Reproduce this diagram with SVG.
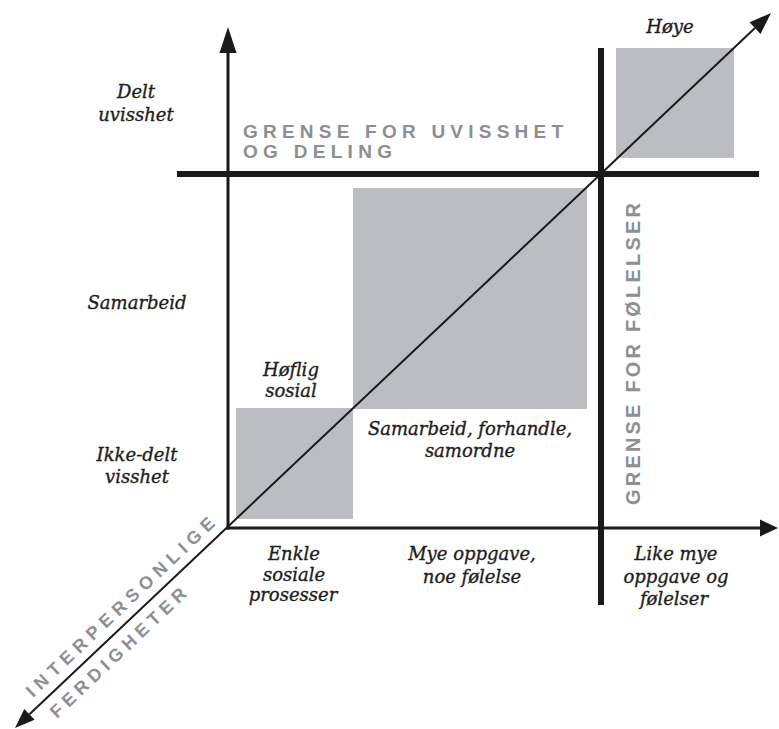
<svg xmlns="http://www.w3.org/2000/svg" width="779" height="729" viewBox="0 0 779 729">
<style>
.box{fill:#bcbdc0}
.lbl{font-family:"DejaVu Serif","Liberation Serif",serif;font-style:italic;font-size:18px;fill:#1e1e1e;stroke:#1e1e1e;stroke-width:0.35;text-anchor:middle}
.cap{font-family:"Liberation Sans",Arial,sans-serif;font-weight:bold;font-size:19px;fill:#8d8f92}
.axis{stroke:#1a1a1a;stroke-width:3;fill:none}
.diag{stroke:#1a1a1a;stroke-width:2;fill:none}
.thick{stroke:#1a1a1a;stroke-width:6;fill:none}
.head{fill:#1a1a1a}
</style>
<rect width="779" height="729" fill="#ffffff"/>
<g id="boxes">
<rect id="box-small" class="box" x="236" y="408" width="117" height="111"/>
<rect id="box-mid" class="box" x="353" y="188" width="234" height="221"/>
<rect id="box-top" class="box" x="616" y="48" width="118" height="110"/>
</g>
<g id="connectors">
<line class="thick" x1="177" y1="174" x2="759" y2="174"/>
<line class="thick" x1="601" y1="48" x2="601" y2="605"/>
<line class="axis" x1="228" y1="529.5" x2="228" y2="50"/>
<polygon class="head" points="228,27 219.5,53 236.5,53"/>
<line class="axis" x1="226.5" y1="528" x2="762" y2="528"/>
<polygon class="head" points="778,528 760,519.5 760,536.5"/>
<line class="diag" x1="29.5" y1="714.3" x2="755" y2="28.1"/>
<polygon class="head" points="771,13 760.5,33.9 749.5,22.3"/>
<polygon class="head" points="15,728 34.7,719.7 24.3,708.9"/>
</g>
<g id="y-labels">
<text class="lbl" x="136" y="98">Delt</text>
<text class="lbl" x="136" y="121">uvisshet</text>
<text class="lbl" x="137" y="309">Samarbeid</text>
<text class="lbl" x="137" y="461">Ikke-delt</text>
<text class="lbl" x="137" y="483">visshet</text>
</g>
<g id="box-labels">
<text class="lbl" x="291" y="376">Høflig</text>
<text class="lbl" x="291" y="397">sosial</text>
<text class="lbl" x="470" y="435">Samarbeid, forhandle,</text>
<text class="lbl" x="470" y="457">samordne</text>
<text class="lbl" x="670" y="33">Høye</text>
</g>
<g id="x-labels">
<text class="lbl" x="294" y="560">Enkle</text>
<text class="lbl" x="294" y="581">sosiale</text>
<text class="lbl" x="293" y="601">prosesser</text>
<text class="lbl" x="472" y="560">Mye oppgave,</text>
<text class="lbl" x="472" y="583">noe følelse</text>
<text class="lbl" x="676" y="560">Like mye</text>
<text class="lbl" x="676" y="583">oppgave og</text>
<text class="lbl" x="674" y="605">følelser</text>
</g>
<g id="boundary-labels">
<text class="cap" x="243" y="137.5" textLength="320" lengthAdjust="spacing">GRENSE FOR UVISSHET</text>
<text class="cap" x="243" y="158" textLength="149" lengthAdjust="spacing">OG DELING</text>
<text class="cap" transform="translate(640,505) rotate(-90)" x="0" y="0" textLength="302" lengthAdjust="spacing" style="font-size:20px">GRENSE FOR FØLELSER</text>
<text class="cap" transform="translate(33,698) rotate(-43.4)" x="0" y="0" textLength="252" lengthAdjust="spacing" style="font-size:18px">INTERPERSONLIGE</text>
<text class="cap" transform="translate(57,719) rotate(-43.4)" x="0" y="0" textLength="180" lengthAdjust="spacing" style="font-size:18px">FERDIGHETER</text>
</g>
</svg>
